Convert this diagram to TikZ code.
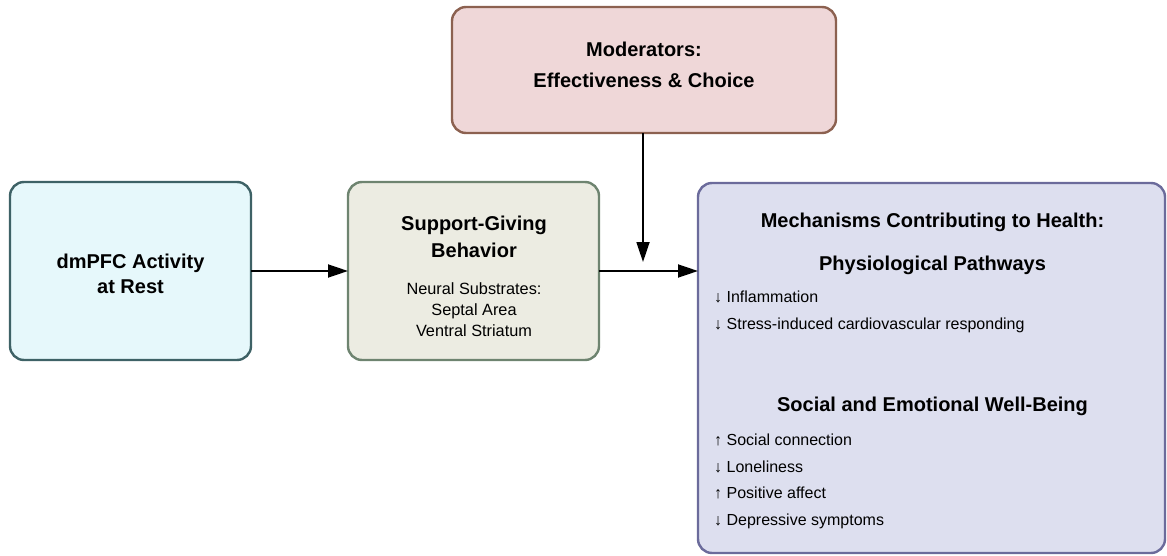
\documentclass[tikz,border=0pt]{standalone}
\usepackage{fontspec}
\setmainfont{Liberation Sans}
\usetikzlibrary{arrows.meta}
\definecolor{cyanfill}{HTML}{E6F8FB}
\definecolor{cyanline}{HTML}{3E6266}
\definecolor{sagefill}{HTML}{ECECE2}
\definecolor{sageline}{HTML}{6E8470}
\definecolor{rosefill}{HTML}{EFD7D8}
\definecolor{roseline}{HTML}{8C6150}
\definecolor{lavfill}{HTML}{DDDFEF}
\definecolor{lavline}{HTML}{6B6B9B}
\tikzset{
  panel/.style={draw, line width=2.4pt, rounded corners=14pt, inner sep=0pt, outer sep=0pt, anchor=north west},
  head/.style={font=\fontsize{20}{24}\selectfont\bfseries, anchor=base, inner sep=0pt},
  body/.style={font=\fontsize{16.3}{20}\selectfont, anchor=base, inner sep=0pt},
  item/.style={font=\fontsize{16}{20}\selectfont, anchor=base west, inner sep=0pt},
  arr/.style={line width=1.8pt, -{Triangle[length=20pt,width=13pt]}}
}
\begin{document}
\begin{tikzpicture}[x=1pt,y=-1pt]
\useasboundingbox (0,0) rectangle (1167,556);

% boxes
\node[panel, fill=cyanfill, draw=cyanline, minimum width=241pt, minimum height=178pt] (dmpfc) at (10,182) {};
\node[panel, fill=sagefill, draw=sageline, minimum width=251pt, minimum height=178pt] (support) at (348,182) {};
\node[panel, fill=rosefill, draw=roseline, minimum width=384pt, minimum height=126pt] (mod) at (452,7) {};
\node[panel, fill=lavfill, draw=lavline, minimum width=467pt, minimum height=370pt] (mech) at (698,183) {};

% dmPFC text
\node[head] (d1) at (130.5,268) {dmPFC Activity};
\node[head] (d2) at (130.5,293) {at Rest};

% support-giving text
\node[head] (s1) at (474,230) {Support-Giving};
\node[head] (s2) at (474,257) {Behavior};
\node[body] (s3) at (474,294) {Neural Substrates:};
\node[body] (s4) at (474,315) {Septal Area};
\node[body] (s5) at (474,336) {Ventral Striatum};

% moderators text
\node[head] (m1) at (644,57) {Moderators:};
\node[head] (m2) at (644,88) {Effectiveness \& Choice};

% mechanisms text
\node[head] (h1) at (932.5,228) {Mechanisms Contributing to Health:};
\node[head] (h2) at (932.5,270) {Physiological Pathways};
\node[item] (p1) at (714,302) {↓ Inflammation};
\node[item] (p2) at (714,329) {↓ Stress-induced cardiovascular responding};
\node[head] (h3) at (932.5,411) {Social and Emotional Well-Being};
\node[item] (e1) at (714,445) {↑ Social connection};
\node[item] (e2) at (714,472) {↓ Loneliness};
\node[item] (e3) at (714,498) {↑ Positive affect};
\node[item] (e4) at (714,525) {↓ Depressive symptoms};

% connectors
\coordinate (join) at (643,262);
\draw[arr] (dmpfc.east) -- (support.west);
\draw[arr] (support.east) -- (mech.west |- support.east);
\draw[arr] (mod.south -| join) -- (join);
\end{tikzpicture}
\end{document}
